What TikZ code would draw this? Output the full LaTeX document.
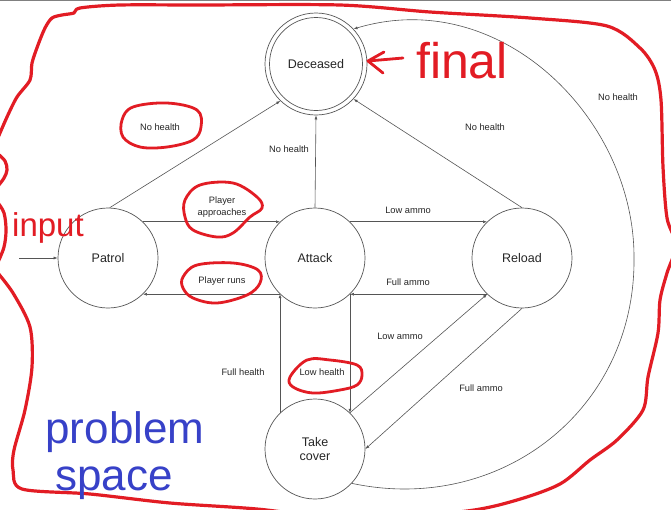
\documentclass[tikz,border=0pt]{standalone}
\usepackage{fontspec}
\setmainfont{Liberation Sans}
\usetikzlibrary{arrows.meta}
\definecolor{edgegray}{RGB}{85,85,85}
\definecolor{penred}{RGB}{226,28,36}
\definecolor{penblue}{RGB}{55,65,200}
\begin{document}
\begin{tikzpicture}[x=1pt,y=-1pt,
  state/.style={circle, draw=edgegray, line width=0.7pt, minimum size=100pt, inner sep=0pt,
    font=\fontsize{12.5}{14}\selectfont, text=black!85, align=center},
  conn/.style={draw=edgegray, line width=0.6pt, -{Latex[length=4pt,width=3pt]}},
  lbl/.style={font=\fontsize{9.3}{11.5}\selectfont, text=black!85, inner sep=0pt, align=center},
  pen/.style={draw=penred, line width=3.2pt, line cap=round, line join=round},
  penmark/.style={draw=penred, line width=2.8pt, line cap=round, line join=round},
  redtext/.style={text=penred, inner sep=0pt, anchor=base},
  bluetext/.style={text=penblue, inner sep=0pt, anchor=base, font=\fontsize{44}{48}\selectfont}]
\useasboundingbox (0,0) rectangle (671,509);
\clip (0,0) rectangle (671,509);
\fill[white] (0,0) rectangle (671,509);
\draw[gray, line width=1pt] (0,0.5) -- (671,0.5);

% states
\node[state, minimum size=102pt] (dec) at (316,64) {Deceased};
\draw[edgegray, line width=0.7pt] (dec.center) circle (46.5);
\node[state] (pat) at (108,258) {Patrol};
\node[state] (att) at (315,258) {Attack};
\node[state] (rel) at (522,258) {Reload};
\node[state] (tc) at (315,449) {Take\\cover};

\coordinate (inp) at (19,258);
\coordinate (far) at (634,257);

% connectors
\draw[conn] (inp) -- (pat.west);
\draw[conn] (pat.88) -- (dec.226);
\draw[conn] (pat.46) -- (att.134);
\draw[conn] (att.226) -- (pat.-46);
\draw[conn] (att.north) -- (dec.south);
\draw[conn] (att.46) -- (rel.134);
\draw[conn] (rel.226) -- (att.-46);
\draw[conn] (rel.north) -- (dec.317);
\draw[conn] (tc.134) -- (att.226);
\draw[conn] (att.-46) -- (tc.46);
\draw[conn] (tc.46) -- (rel.226);
\draw[conn] (rel.south) -- (tc.east);
\draw[conn] (tc.-43) .. controls (500,515) and (636,410) .. (far)
  .. controls (634,118) and (500,-15) .. (dec.43.5);

% labels
\node[lbl] (l1) at (160,127) {No health};
\node[lbl] (l2) at (289,149) {No health};
\node[lbl] (l3) at (485,127) {No health};
\node[lbl] (l4) at (618,97) {No health};
\node[lbl] (l5) at (222,207) {Player\\approaches};
\node[lbl] (l6) at (222,281) {Player runs};
\node[lbl] (l7) at (408,210) {Low ammo};
\node[lbl] (l8) at (408,282) {Full ammo};
\node[lbl] (l9) at (400,336) {Low ammo};
\node[lbl] (l10) at (481,388) {Full ammo};
\node[lbl] (l11) at (243,372) {Full health};
\node[lbl] (l12) at (322,372) {Low health};

% red freehand outline
\draw[pen] plot[smooth, tension=0.5] coordinates {
 (-3,140) (7,117) (17,97) (30,80) (32,63) (38,45) (45,28) (52,18) (62,15) (74,13) (80,8)
 (120,5) (200,5) (340,5) (430,12)
 (530,18) (607,26) (640,48) (655,70) (661,100) (663,167) (667,218) (676,245)
 (667,273) (660,300) (658,333) (648,377) (643,410) (617,440) (590,460) (560,484)
 (517,500) (467,511) (360,520) (257,509) (170,503) (90,494) (22,489) (13,470)
 (14,450) (25,410) (32,367) (30,327) (13,293) (-3,272)};
\draw[pen] plot[smooth, tension=0.6] coordinates {(-2,154) (5,161) (7,170) (4,178) (-2,186)};
\draw[pen] plot[smooth, tension=0.6] coordinates {(-2,203) (4,213) (6,230) (4,247) (-2,262)};

% red loops round labels
\draw[penmark] plot[smooth cycle, tension=0.6] coordinates {
 (122,120) (133,107) (167,103) (197,110) (201,127) (193,140) (167,147) (140,147) (123,137)};
\draw[penmark] plot[smooth cycle, tension=0.6] coordinates {
 (185,200) (200,185) (233,183) (257,197) (262,208) (250,217) (233,233) (217,237) (193,230) (185,217)};
\draw[penmark] plot[smooth cycle, tension=0.6] coordinates {
 (183,277) (197,265) (233,263) (258,270) (260,283) (247,295) (217,303) (193,298) (183,288)};
\draw[penmark] plot[smooth cycle, tension=0.6] coordinates {
 (290,377) (307,360) (330,360) (357,365) (362,375) (357,385) (340,390) (313,393) (293,387)};

% handwritten notes
\draw[penmark] (403,58) -- (368,61);
\draw[penmark] (384,52) -- (368,61) -- (383,73);
\node[redtext, font=\fontsize{50}{54}\selectfont] (fin) at (462,78) {final};
\node[redtext, font=\fontsize{33}{36}\selectfont] (inw) at (48,236) {input};
\node[bluetext] (pb) at (125,443) {problem};
\node[bluetext] (sp) at (114,490) {space};
\end{tikzpicture}
\end{document}
